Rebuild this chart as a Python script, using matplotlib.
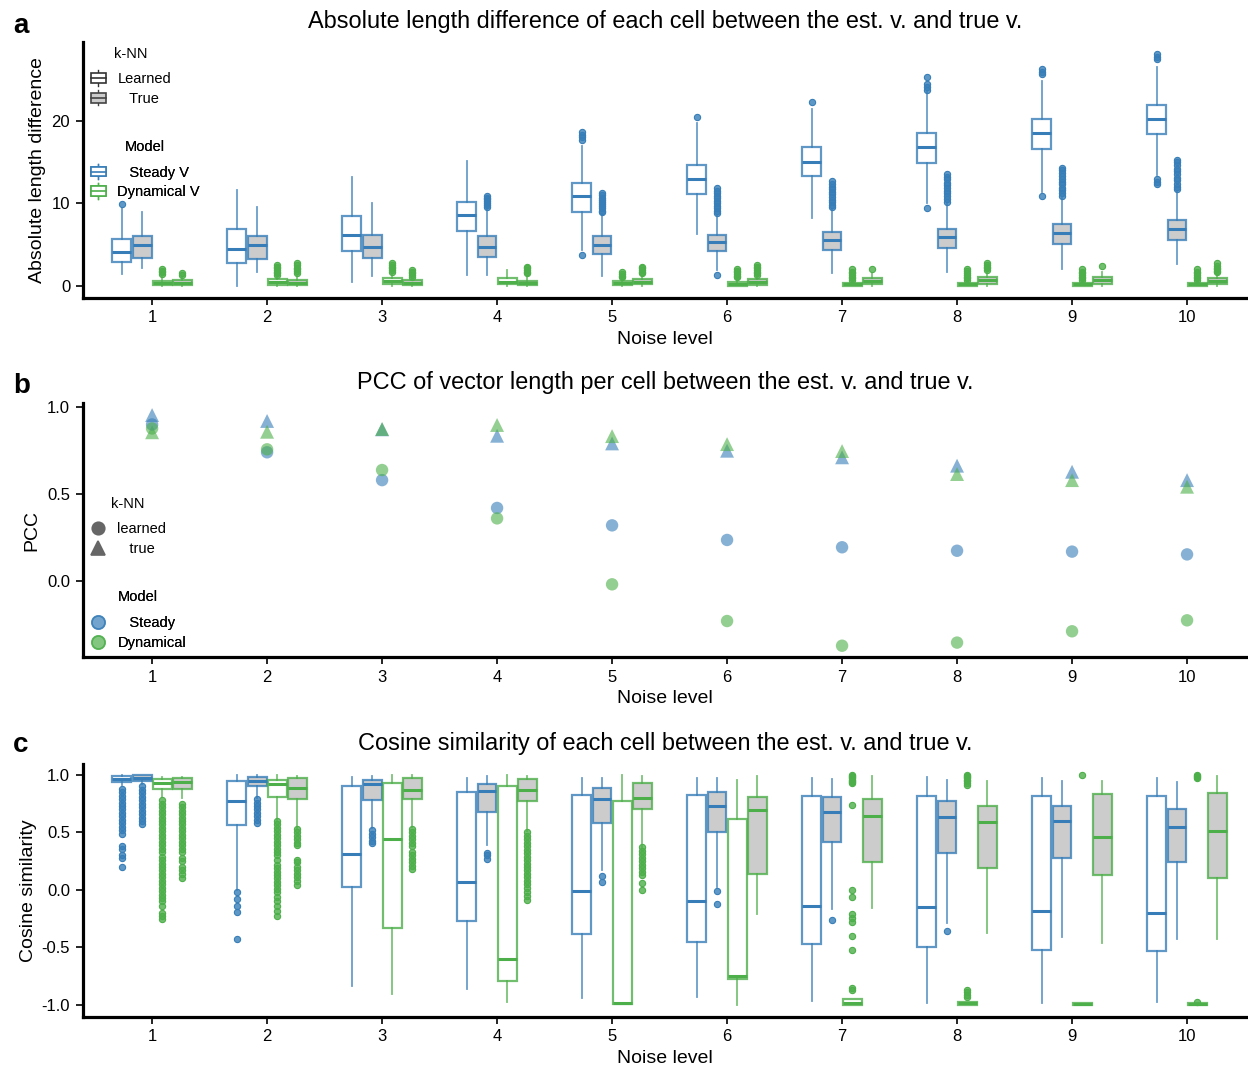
import matplotlib
matplotlib.use('Agg')
import matplotlib.pyplot as plt
from matplotlib.colors import to_rgba
from matplotlib.patches import Patch, Rectangle
from matplotlib.lines import Line2D
from matplotlib.legend_handler import HandlerBase

plt.rcParams['font.family'] = ['Liberation Sans', 'DejaVu Sans']
plt.rcParams['axes.unicode_minus'] = False

BLUE = '#377eb8'
GREEN = '#4daf4a'
GREY = '#cccccc'

noise_levels = ['1', '2', '3', '4', '5', '6', '7', '8', '9', '10']

# ---- a: absolute length difference, (whislo, q1, median, q3, whishi) per noise level
len_steady_learned = [(1.4, 2.9, 4.1, 5.7, 9.4), (0.0, 2.8, 4.5, 6.9, 11.6), (0.4, 4.2, 6.2, 8.5, 13.2),
                      (1.3, 6.6, 8.6, 10.2, 15.1), (4.3, 9.0, 10.9, 12.5, 17.0), (6.3, 11.1, 13.0, 14.7, 19.7),
                      (8.2, 13.3, 15.0, 16.8, 21.5), (10.0, 14.9, 16.8, 18.5, 23.6), (11.4, 16.6, 18.5, 20.2, 24.9),
                      (13.4, 18.4, 20.2, 21.9, 26.6)]
len_steady_true = [(2.2, 3.4, 4.9, 6.0, 8.9), (1.6, 3.2, 4.9, 6.0, 9.5), (1.2, 3.3, 4.7, 6.1, 10.0),
                   (1.25, 3.5, 4.7, 6.0, 9.4), (1.2, 3.9, 4.9, 6.0, 8.7), (1.9, 4.2, 5.3, 6.1, 8.6),
                   (1.5, 4.3, 5.55, 6.5, 9.3), (1.6, 4.6, 5.95, 6.9, 10.0), (2.0, 5.0, 6.4, 7.45, 10.7),
                   (2.6, 5.5, 6.85, 8.0, 11.5)]
len_dyn_learned = [(0.0, 0.05, 0.3, 0.6, 1.1), (0.0, 0.1, 0.4, 0.75, 1.2), (0.0, 0.2, 0.6, 0.9, 1.4),
                   (0.0, 0.15, 0.45, 0.9, 1.9), (0.0, 0.08, 0.35, 0.6, 0.9), (0.0, 0.0, 0.2, 0.45, 0.9),
                   (0.0, 0.0, 0.15, 0.32, 0.6), (0.0, 0.0, 0.15, 0.35, 0.6), (0.0, 0.0, 0.15, 0.33, 0.6),
                   (0.0, 0.0, 0.15, 0.33, 0.6)]
len_dyn_true = [(0.0, 0.1, 0.35, 0.7, 1.1), (0.0, 0.1, 0.35, 0.7, 1.2), (0.0, 0.05, 0.35, 0.7, 1.0),
                (0.0, 0.1, 0.3, 0.55, 1.2), (0.0, 0.15, 0.45, 0.75, 1.2), (0.0, 0.1, 0.45, 0.75, 1.2),
                (0.0, 0.2, 0.55, 0.95, 1.5), (0.0, 0.25, 0.7, 1.0, 1.6), (0.0, 0.25, 0.7, 1.0, 1.6),
                (0.0, 0.15, 0.6, 0.9, 1.4)]

len_steady_learned_fl = [[9.9], [], [], [], [3.7, 17.7, 18.0, 18.3, 18.7], [20.5], [22.3],
                         [9.4, 23.8, 24.1, 24.5, 25.4], [10.9, 25.7, 26.0, 26.3],
                         [12.3, 12.6, 13.0, 27.5, 27.8, 28.1]]
len_steady_true_fl = [[], [], [],
                      [9.6, 9.8, 10.0, 10.3, 10.5, 10.7, 10.9],
                      [8.9, 9.1, 9.4, 9.7, 9.9, 10.2, 10.4, 10.7, 11.0, 11.3],
                      [1.3, 8.8, 9.1, 9.4, 9.7, 10.0, 10.3, 10.6, 10.9, 11.2, 11.5, 11.8],
                      [9.5, 9.8, 10.1, 10.4, 10.8, 11.1, 11.4, 11.7, 12.0, 12.3, 12.7],
                      [10.2, 10.5, 10.9, 11.2, 11.5, 11.9, 12.2, 12.5, 12.9, 13.2, 13.6],
                      [10.9, 11.2, 11.6, 11.9, 12.3, 12.6, 13.0, 13.3, 13.7, 14.0, 14.3],
                      [11.7, 12.0, 12.4, 12.8, 13.1, 13.5, 13.9, 14.2, 14.6, 15.0, 15.3]]
len_dyn_learned_fl = [[1.4, 1.6, 1.8, 2.0], [1.3, 1.5, 1.7, 1.9, 2.1, 2.3, 2.5],
                      [1.7, 1.9, 2.1, 2.3, 2.5, 2.7], [], [1.0, 1.2, 1.4, 1.6],
                      [1.0, 1.2, 1.4, 1.6, 1.8, 2.0], [0.7, 0.9, 1.1, 1.3, 1.5, 1.7, 2.0],
                      [0.7, 0.9, 1.1, 1.3, 1.5, 1.8, 2.0], [0.7, 0.9, 1.1, 1.3, 1.5, 1.7, 2.0],
                      [0.7, 0.9, 1.1, 1.3, 1.5, 1.7, 2.0]]
len_dyn_true_fl = [[1.3, 1.5], [1.5, 1.8, 2.0, 2.2, 2.5, 2.8], [1.1, 1.3, 1.5, 1.7, 1.9],
                   [1.5, 1.7, 1.9, 2.1, 2.3], [1.5, 1.7, 1.9, 2.1, 2.3],
                   [1.3, 1.5, 1.7, 1.9, 2.1, 2.3, 2.5], [2.0], [1.9, 2.1, 2.3, 2.5, 2.8], [2.4],
                   [1.6, 1.8, 2.0, 2.2, 2.4, 2.7]]

# ---- b: PCC of vector length
pcc_steady_learned = [0.90, 0.74, 0.58, 0.42, 0.32, 0.236, 0.194, 0.174, 0.169, 0.153]
pcc_steady_true = [0.954, 0.92, 0.872, 0.835, 0.791, 0.749, 0.711, 0.663, 0.628, 0.580]
pcc_dyn_learned = [0.877, 0.757, 0.638, 0.36, -0.019, -0.23, -0.372, -0.354, -0.289, -0.226]
pcc_dyn_true = [0.855, 0.858, 0.874, 0.897, 0.833, 0.787, 0.747, 0.615, 0.580, 0.542]

# ---- c: cosine similarity, (whislo, q1, median, q3, whishi)
cos_steady_learned = [(0.91, 0.936, 0.962, 0.99, 1.0), (0.0, 0.565, 0.77, 0.948, 1.0),
                      (-0.835, 0.023, 0.31, 0.9, 0.98), (-0.86, -0.267, 0.067, 0.852, 0.97),
                      (-0.936, -0.38, -0.006, 0.829, 0.97), (-0.928, -0.449, -0.093, 0.823, 0.97),
                      (-0.962, -0.472, -0.136, 0.82, 0.97), (-0.98, -0.493, -0.145, 0.82, 0.98),
                      (-0.98, -0.52, -0.18, 0.82, 0.97), (-0.97, -0.53, -0.203, 0.817, 0.97)]
cos_steady_true = [(0.92, 0.95, 0.977, 1.0, 1.0), (0.8, 0.9, 0.948, 0.986, 1.0),
                   (0.536, 0.783, 0.919, 0.957, 0.99), (0.39, 0.675, 0.864, 0.922, 0.99),
                   (0.17, 0.586, 0.794, 0.884, 0.97), (0.03, 0.507, 0.73, 0.849, 0.97),
                   (-0.165, 0.414, 0.681, 0.81, 0.965), (-0.284, 0.325, 0.638, 0.777, 0.957),
                   (-0.406, 0.275, 0.603, 0.73, 0.95), (-0.429, 0.24, 0.551, 0.704, 0.942)]
cos_dyn_learned = [(0.81, 0.88, 0.933, 0.962, 0.98), (0.61, 0.806, 0.922, 0.957, 1.0),
                   (-0.904, -0.328, 0.443, 0.928, 1.0), (-0.97, -0.79, -0.597, 0.9, 1.0),
                   (-0.99, -0.99, -0.985, 0.771, 1.0), (-1.0, -0.777, -0.748, 0.614, 0.957),
                   (-1.0, -1.0, -0.98, -0.95, -0.95), (-1.0, -1.0, -0.985, -0.97, -0.97),
                   (-1.0, -1.0, -0.99, -0.985, -0.985), (-1.0, -1.0, -0.99, -0.985, -0.985)]
cos_dyn_true = [(0.8, 0.875, 0.942, 0.97, 0.98), (0.54, 0.794, 0.884, 0.971, 0.99),
                (0.55, 0.794, 0.87, 0.971, 1.0), (0.51, 0.777, 0.87, 0.962, 0.99),
                (0.377, 0.7, 0.803, 0.928, 0.99), (-0.21, 0.14, 0.696, 0.81, 0.99),
                (-0.16, 0.246, 0.646, 0.788, 0.99), (-0.377, 0.194, 0.594, 0.73, 0.948),
                (-0.458, 0.13, 0.458, 0.832, 0.948), (-0.43, 0.107, 0.516, 0.846, 0.99)]

cos_steady_learned_fl = [[0.88, 0.85, 0.82, 0.79, 0.76, 0.73, 0.70, 0.67, 0.64, 0.61, 0.58, 0.55, 0.52,
                          0.49, 0.38, 0.36, 0.30, 0.28, 0.20],
                         [-0.02, -0.08, -0.14, -0.19, -0.43], [], [], [], [], [], [], [], []]
cos_steady_true_fl = [[0.90, 0.87, 0.84, 0.81, 0.78, 0.75, 0.72, 0.69, 0.66, 0.63, 0.60, 0.57],
                      [0.79, 0.76, 0.73, 0.70, 0.67, 0.64, 0.61, 0.58],
                      [0.52, 0.49, 0.46, 0.43, 0.41], [0.32, 0.30, 0.27], [0.12, 0.07],
                      [-0.01, -0.12], [-0.26], [-0.36], [], []]
cos_dyn_learned_fl = [[0.78, 0.75, 0.72, 0.69, 0.66, 0.63, 0.60, 0.57, 0.54, 0.51, 0.48, 0.45, 0.42,
                       0.39, 0.36, 0.33, 0.29, 0.26, 0.23, 0.20, 0.17, 0.14, 0.11, 0.08, 0.05, 0.02,
                       -0.01, -0.04, -0.07, -0.10, -0.14, -0.20, -0.23, -0.25],
                      [0.60, 0.57, 0.54, 0.51, 0.48, 0.45, 0.42, 0.39, 0.36, 0.33, 0.30, 0.26, 0.22,
                       0.19, 0.16, 0.13, 0.10, 0.07, 0.04, 0.01, -0.02, -0.06, -0.10, -0.14, -0.18,
                       -0.23],
                      [], [], [], [],
                      [1.0, 0.99, 0.98, 0.97, 0.96, 0.95, 0.94, 0.93, 0.74, 0.0, -0.06, -0.21, -0.24,
                       -0.28, -0.40, -0.52, -0.85, -0.87],
                      [1.0, 0.99, 0.98, 0.97, 0.96, 0.95, 0.93, 0.91, -0.87, -0.89, -0.91, -0.93],
                      [1.0], [1.0, 0.99, 0.98, 0.97, -0.97]]
cos_dyn_true_fl = [[0.75, 0.72, 0.69, 0.66, 0.63, 0.60, 0.57, 0.54, 0.51, 0.48, 0.45, 0.42, 0.39, 0.36,
                    0.33, 0.28, 0.25, 0.20, 0.17, 0.14, 0.10],
                   [0.53, 0.50, 0.47, 0.44, 0.41, 0.39, 0.26, 0.24, 0.20, 0.17, 0.14, 0.11, 0.08, 0.04],
                   [0.53, 0.50, 0.47, 0.44, 0.41, 0.38, 0.33, 0.30, 0.27, 0.24, 0.21, 0.18],
                   [0.50, 0.47, 0.44, 0.41, 0.38, 0.35, 0.32, 0.29, 0.26, 0.23, 0.20, 0.17, 0.14,
                    0.11, 0.08, 0.05, 0.02, -0.02, -0.05, -0.09],
                   [0.37, 0.34, 0.31, 0.28, 0.25, 0.22, 0.19, 0.16, 0.13, 0.06, 0.0],
                   [], [], [], [], []]

OFFSETS = [-0.2625, -0.0875, 0.0875, 0.2625]


class BoxGlyph(HandlerBase):
    # small box-with-whisker legend key
    def create_artists(self, legend, orig_handle, xdescent, ydescent, width, height, fontsize, trans):
        x0, y0 = -xdescent, -ydescent
        ec = orig_handle.get_edgecolor()
        fc = orig_handle.get_facecolor()
        bw, bh = width * 0.9, height * 0.95
        bx, by = x0 + (width - bw) / 2, y0 + (height - bh) / 2
        cx, cy = x0 + width / 2, y0 + height / 2
        whisk = Line2D([cx, cx], [y0 - 0.25 * height, y0 + 1.25 * height], color=ec, lw=1.0, transform=trans)
        box = Rectangle((bx, by), bw, bh, facecolor=fc, edgecolor=ec, lw=1.2, transform=trans)
        med = Line2D([bx, bx + bw], [cy, cy], color=ec, lw=1.2, transform=trans)
        return [whisk, box, med]


def draw_boxes(ax, rows, fliers, offset, color, face):
    stats = [dict(whislo=lo, q1=q1, med=med, q3=q3, whishi=hi, fliers=fl)
             for (lo, q1, med, q3, hi), fl in zip(rows, fliers)]
    ax.bxp(stats, positions=[i + offset for i in range(len(stats))], widths=0.165,
           patch_artist=True, showcaps=False, manage_ticks=False,
           boxprops=dict(facecolor=face, edgecolor=to_rgba(color, 0.8), linewidth=1.6),
           whiskerprops=dict(color=to_rgba(color, 0.75), linewidth=1.3),
           medianprops=dict(color=color, linewidth=2.2, solid_capstyle='butt'),
           flierprops=dict(marker='o', markersize=4.5, markerfacecolor=to_rgba(color, 0.8),
                           markeredgecolor=color, markeredgewidth=0.8))


def style_axes(ax, ylim, yticks, ylabel, title, label_x):
    ax.set_xlim(-0.603, 9.53)
    ax.set_ylim(*ylim)
    ax.set_xticks(range(10))
    ax.set_xticklabels(noise_levels)
    ax.set_yticks(yticks)
    ax.spines[['top', 'right']].set_visible(False)
    ax.spines[['left', 'bottom']].set_linewidth(2.3)
    ax.tick_params(labelsize=12, length=5, width=1.2, pad=4)
    ax.set_xlabel('Noise level', fontsize=14, labelpad=4)
    ax.set_ylabel(ylabel, fontsize=14)
    ax.yaxis.set_label_coords(label_x, 0.5)
    ax.set_title(title, fontsize=16.9, pad=10)


def add_legend(ax, handles, labels, title, anchor, **kw):
    leg = ax.legend(handles, labels, title=title, loc='upper left', bbox_to_anchor=anchor,
                    frameon=False, fontsize=10.5, title_fontsize=10.5, handlelength=1.2,
                    handletextpad=0.7, labelspacing=0.38, borderpad=0, borderaxespad=0, **kw)
    leg._legend_box.sep = 8.4  # extra room under the legend title
    ax.add_artist(leg)
    return leg


def dot_handle(marker, ms, color, alpha=1.0, edge_alpha=None):
    face = to_rgba(color, alpha)
    edge = to_rgba(color, alpha if edge_alpha is None else edge_alpha)
    return Line2D([], [], ls='none', marker=marker, ms=ms, markerfacecolor=face,
                  markeredgecolor=edge, markeredgewidth=1.2)


fig = plt.figure(figsize=(12.48, 10.68), dpi=100)
ax_a = fig.add_axes([0.0663, 0.721, 0.9337, 0.2397])
ax_b = fig.add_axes([0.0663, 0.3848, 0.9337, 0.2378])
ax_c = fig.add_axes([0.0663, 0.0478, 0.9337, 0.2369])

for letter, ypos in [('a', 1 - 33 / 1068), ('b', 1 - 393 / 1068), ('c', 1 - 752 / 1068)]:
    fig.text(13 / 1248, ypos, letter, fontsize=20, fontweight='bold', ha='left', va='baseline')

# a
draw_boxes(ax_a, len_steady_learned, len_steady_learned_fl, OFFSETS[0], BLUE, 'white')
draw_boxes(ax_a, len_steady_true, len_steady_true_fl, OFFSETS[1], BLUE, GREY)
draw_boxes(ax_a, len_dyn_learned, len_dyn_learned_fl, OFFSETS[2], GREEN, 'white')
draw_boxes(ax_a, len_dyn_true, len_dyn_true_fl, OFFSETS[3], GREEN, GREY)
style_axes(ax_a, (-1.5, 29.6), [0, 10, 20], 'Absolute length difference',
           'Absolute length difference of each cell between the est. v. and true v.', -0.0314)

add_legend(ax_a, [Patch(facecolor='white', edgecolor='#333333'), Patch(facecolor=GREY, edgecolor='#444444')],
           ['Learned', '   True'], 'k-NN', (0.006, 0.982), handler_map={Patch: BoxGlyph()})
add_legend(ax_a, [Patch(facecolor='white', edgecolor=BLUE), Patch(facecolor='white', edgecolor=GREEN)],
           ['   Steady V', 'Dynamical V'], 'Model', (0.006, 0.617), handler_map={Patch: BoxGlyph()})

# b
x = range(len(noise_levels))
ax_b.scatter(x, pcc_steady_true, marker='^', s=100, color=BLUE, alpha=0.6, edgecolors='none')
ax_b.scatter(x, pcc_dyn_true, marker='^', s=100, color=GREEN, alpha=0.6, edgecolors='none')
ax_b.scatter(x, pcc_steady_learned, marker='o', s=80, color=BLUE, alpha=0.6, edgecolors='none')
ax_b.scatter(x, pcc_dyn_learned, marker='o', s=80, color=GREEN, alpha=0.6, edgecolors='none')
style_axes(ax_b, (-0.437, 1.023), [0.0, 0.5, 1.0], 'PCC',
           'PCC of vector length per cell between the est. v. and true v.', -0.0364)

add_legend(ax_b, [dot_handle('o', 9, '#666666'), dot_handle('^', 10, '#666666')],
           ['learned', '   true'], 'k-NN', (0.006, 0.632))
add_legend(ax_b, [dot_handle('o', 9.5, BLUE, 0.45, 0.7), dot_handle('o', 9.5, GREEN, 0.45, 0.7)],
           ['   Steady', 'Dynamical'], 'Model', (0.006, 0.262))

# c
draw_boxes(ax_c, cos_steady_learned, cos_steady_learned_fl, OFFSETS[0], BLUE, 'white')
draw_boxes(ax_c, cos_steady_true, cos_steady_true_fl, OFFSETS[1], BLUE, GREY)
draw_boxes(ax_c, cos_dyn_learned, cos_dyn_learned_fl, OFFSETS[2], GREEN, 'white')
draw_boxes(ax_c, cos_dyn_true, cos_dyn_true_fl, OFFSETS[3], GREEN, GREY)
style_axes(ax_c, (-1.104, 1.096), [-1.0, -0.5, 0.0, 0.5, 1.0], 'Cosine similarity',
           'Cosine similarity of each cell between the est. v. and true v.', -0.0393)

fig.savefig('out.png', dpi=100)
